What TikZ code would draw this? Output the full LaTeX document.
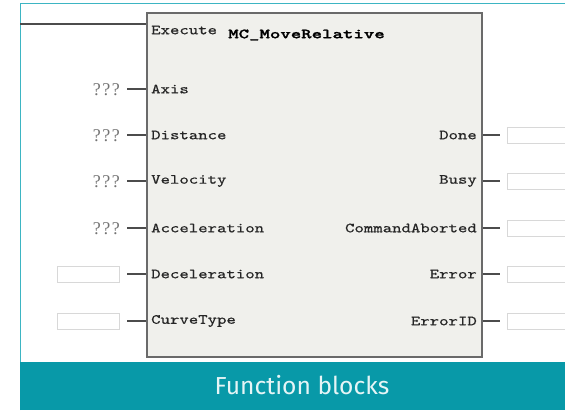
\documentclass[tikz,border=0pt]{standalone}
\usepackage{fontspec}
\newfontfamily\pinfont[FakeStretch=1.28, FakeBold=0.6]{lmmono10-regular.otf}
\newfontfamily\titlefont[FakeStretch=1.42, FakeBold=1.5]{lmmonolt10-bold.otf}
\newfontfamily\qfont[LetterSpace=8]{Liberation Serif}
\newfontfamily\capfont{Fira Sans}
\definecolor{teal1}{HTML}{0899A8}
\definecolor{tealline}{HTML}{3DB5C3}
\definecolor{blockfill}{HTML}{F0F0EC}
\definecolor{blockdraw}{HTML}{6A6A6A}
\definecolor{boxdraw}{HTML}{D8D8D8}
\begin{document}
\begin{tikzpicture}[x=1pt,y=-1pt,
  pin/.style={font=\pinfont\fontsize{14}{15}\selectfont, inner sep=0pt, text=black!85},
  qq/.style={font=\qfont\fontsize{18}{19}\selectfont, inner sep=0pt, anchor=east, text=black!55},
  wire/.style={draw=black!70, line width=1.2pt},
  emptybox/.style={draw=boxdraw, line width=1pt, fill=white, minimum width=62pt, minimum height=16pt, inner sep=0pt}]
\useasboundingbox (0,0) rectangle (565,410);
\fill[white] (0,0) rectangle (565,410);
% frame
\draw[tealline, line width=1.5pt] (20.5,410) -- (20.5,3.5) -- (565,3.5);
\fill[teal1] (20,362) rectangle (565,410);
\node[font=\capfont\fontsize{24.6}{27}\selectfont, text=white!90!teal1] (cap) at (302,385.5) {Function blocks};
% block
\node[draw=blockdraw, line width=1.6pt, fill=blockfill, minimum width=335pt, minimum height=344pt, inner sep=0pt] (blk) at (314.5,185) {};
\coordinate (exin) at (20,24);
\node[pin, anchor=west] (exe) at (151,30) {Execute};
\node[pin, anchor=west, font=\titlefont\fontsize{14}{15}\selectfont, text=black] (title) at (228,35) {MC\_MoveRelative};
\draw[wire] (exin) -- (blk.west |- exin);
% left pins
\foreach \n/\lab/\y in {ax/Axis/89, di/Distance/135, ve/Velocity/181, ac/Acceleration/228, de/Deceleration/274, cu/CurveType/321}{
  \node[pin, anchor=west] (\n) at (151,\y) {\lab};
  \coordinate (\n w) at (127,\y);
  \draw[wire] (\n w) -- (blk.west |- \n w);
}
\foreach \n in {ax,di,ve,ac}{
  \node[qq] (\n q) at ([xshift=-7pt, yshift=-1pt]\n w) {???};
}
\node[emptybox, anchor=east] (deb) at (120,274) {};
\node[emptybox, anchor=east] (cub) at (120,321) {};
% right pins
\foreach \n/\lab/\y in {dn/Done/135, bs/Busy/181, ca/CommandAborted/228, er/Error/274, ei/ErrorID/321}{
  \node[pin, anchor=east] (\n) at (477,\y) {\lab};
  \node[emptybox, anchor=west, minimum width=70pt] (\n b) at (507,\y) {};
  \coordinate (\n o) at (500,\y);
  \draw[wire] (blk.east |- \n o) -- (\n o);
}
\end{tikzpicture}
\end{document}
